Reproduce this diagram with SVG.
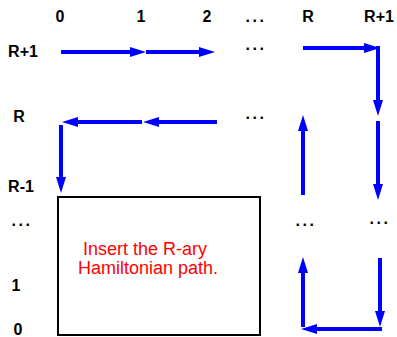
<svg xmlns="http://www.w3.org/2000/svg" width="397" height="337" viewBox="0 0 397 337">
<style>
.lbl{font-family:"Liberation Sans",Arial,sans-serif;font-weight:bold;font-size:16px;fill:#000;text-anchor:middle}
.dots{font-family:"Liberation Sans",Arial,sans-serif;font-weight:bold;font-size:16px;fill:#000;text-anchor:middle;letter-spacing:2.6px}
.note{font-family:"Liberation Sans",Arial,sans-serif;font-size:18px;fill:#ff0000;text-anchor:middle}
.arr{stroke:#0000ff;stroke-width:4;fill:none;marker-end:url(#ah)}
.box{fill:#fff;stroke:#000;stroke-width:2}
</style>
<defs>
<marker id="ah" markerUnits="userSpaceOnUse" markerWidth="16" markerHeight="10" refX="0" refY="5" orient="auto" overflow="visible">
<path d="M0,0 L16,5 L0,10 z" fill="#0000ff"/>
</marker>
</defs>
<g id="labels">
<text class="lbl" x="60" y="22">0</text>
<text class="lbl" x="141" y="22">1</text>
<text class="lbl" x="207" y="22">2</text>
<text class="dots" x="256" y="22">...</text>
<text class="lbl" x="308" y="22">R</text>
<text class="lbl" x="379" y="22">R+1</text>
<text class="lbl" x="23" y="57">R+1</text>
<text class="lbl" x="19" y="122">R</text>
<text class="lbl" x="21" y="192">R-1</text>
<text class="dots" x="22" y="226">...</text>
<text class="lbl" x="16" y="291">1</text>
<text class="lbl" x="18" y="335">0</text>
<text class="dots" x="256" y="50">...</text>
<text class="dots" x="256" y="119">...</text>
<text class="dots" x="306" y="226">...</text>
<text class="dots" x="380" y="224">...</text>
</g>
<g id="box">
<rect class="box" x="58" y="197" width="202" height="138"/>
<text class="note" x="145" y="255">Insert the R-ary</text>
<text class="note" x="148" y="274">Hamiltonian path.</text>
</g>
<g id="connectors">
<line class="arr" x1="61" y1="52" x2="130" y2="52"/>
<line class="arr" x1="146" y1="52" x2="199" y2="52"/>
<line class="arr" x1="303" y1="48" x2="364" y2="48"/>
<line class="arr" x1="378" y1="46" x2="378" y2="100"/>
<line class="arr" x1="378" y1="121" x2="378" y2="184"/>
<line class="arr" x1="303" y1="195" x2="303" y2="131"/>
<line class="arr" x1="217" y1="122" x2="159" y2="122"/>
<line class="arr" x1="142" y1="122" x2="78" y2="122"/>
<line class="arr" x1="61" y1="125" x2="61" y2="177"/>
<line class="arr" x1="303" y1="327" x2="303" y2="273"/>
<line class="arr" x1="380" y1="258" x2="380" y2="311"/>
<line class="arr" x1="382" y1="329" x2="317" y2="329"/>
</g>
</svg>
